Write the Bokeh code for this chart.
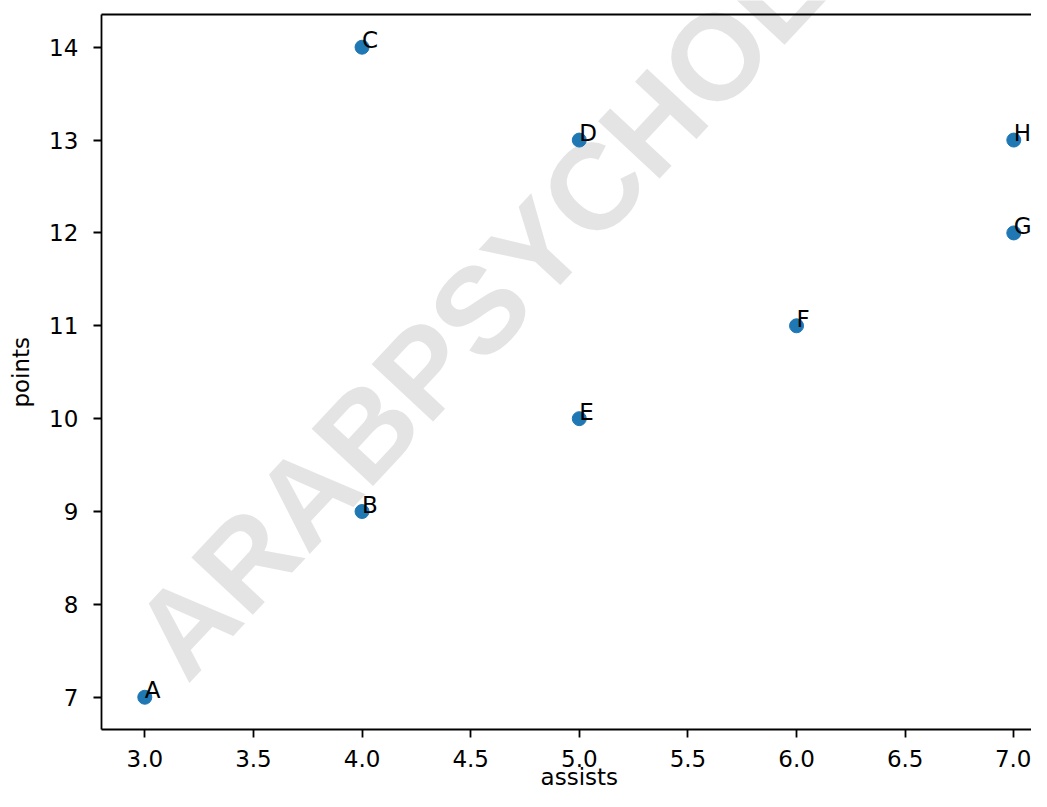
from bokeh.plotting import figure
from bokeh.models import (Range1d, FixedTicker, PrintfTickFormatter, Label, ColumnDataSource,
                          LinearAxis)
from bokeh.core.properties import value
from bokeh.embed import file_html
from bokeh.resources import INLINE

# ---- data ----
names = ["A", "B", "C", "D", "E", "F", "G", "H"]
assists = [3, 4, 4, 5, 5, 6, 7, 7]
points = [7, 9, 14, 13, 10, 11, 12, 13]
x_ticks = [3.0, 3.5, 4.0, 4.5, 5.0, 5.5, 6.0, 6.5, 7.0]
y_ticks = [7, 8, 9, 10, 11, 12, 13, 14]
x_label = "assists"
y_label = "points"
watermark = "ARABPSYCHOLOGY"

FONT = "DejaVu Sans"
FS = "23px"
# axes limits (as in the reference)
X_START, X_END = 2.8, 7.2
Y_START, Y_END = 6.65, 14.35
# the visible canvas area in data units (axes box sits inside it, cropped at right)
X_VIEW_START, X_VIEW_END = 2.3358, 7.0815
Y_VIEW_START, Y_VIEW_END = 5.985, 14.503

src = ColumnDataSource(dict(names=names, assists=assists, points=points))

p = figure(width=1031, height=791, output_backend="svg", toolbar_location=None,
           x_range=Range1d(X_VIEW_START, X_VIEW_END), y_range=Range1d(Y_VIEW_START, Y_VIEW_END),
           min_border_left=0, min_border_right=0, min_border_top=0, min_border_bottom=0)
p.outline_line_color = None
p.grid.visible = False
p.background_fill_color = "white"
p.border_fill_color = "white"

xax = p.xaxis[0]
yax = p.yaxis[0]

# watermark (under the data)
wm = Label(x=3.054, y=7.438, text=watermark, angle=47, angle_units="deg",
           text_font="Liberation Sans", text_font_style="bold", text_font_size="122px",
           text_color="#e4e4e4", text_align="left", text_baseline="alphabetic",
           level="underlay")
p.add_layout(wm)

p.scatter("assists", "points", source=src, size=14, color="#1f77b4")
p.text("assists", "points", text="names", source=src,
       text_font=value(FONT), text_font_size=value(FS), text_color="black",
       text_align="left", text_baseline="middle", y_offset=-7)

# axes drawn at the axes-box edges
xax.ticker = FixedTicker(ticks=x_ticks)
xax.formatter = PrintfTickFormatter(format="%.1f")
yax.ticker = FixedTicker(ticks=y_ticks)
xax.fixed_location = Y_START
xax.bounds = (X_START, X_VIEW_END)
yax.fixed_location = X_START
yax.bounds = (Y_START, Y_END)

for ax in (xax, yax):
    ax.axis_line_color = "black"
    ax.axis_line_width = 1.8
    ax.major_tick_line_color = "black"
    ax.major_tick_line_width = 1.8
    ax.major_tick_in = 0
    ax.major_tick_out = 8
    ax.minor_tick_line_color = None
    ax.major_label_text_font = FONT
    ax.major_label_text_font_size = FS
    ax.major_label_text_color = "black"

xax.major_label_standoff = 12
yax.major_label_standoff = 15

# top spine: an axis line with no ticks
top_spine = LinearAxis(fixed_location=Y_END, bounds=(X_START, X_VIEW_END),
                       ticker=FixedTicker(ticks=[]), axis_line_color="black",
                       axis_line_width=1.8, major_tick_line_color=None,
                       minor_tick_line_color=None, major_label_text_font_size="0px")
p.add_layout(top_spine, "above")

# axis titles, centred on the axes box
xl = Label(x=(X_START + X_END) / 2, y=6.141, text=x_label,
           text_font=FONT, text_font_size=FS, text_color="black",
           text_align="center", text_baseline="middle")
yl = Label(x=2.430, y=(Y_START + Y_END) / 2, text=y_label, angle=90, angle_units="deg",
           text_font=FONT, text_font_size=FS, text_color="black",
           text_align="center", text_baseline="middle")
p.add_layout(xl)
p.add_layout(yl)

open("out.html", "w").write(file_html(p, INLINE))
